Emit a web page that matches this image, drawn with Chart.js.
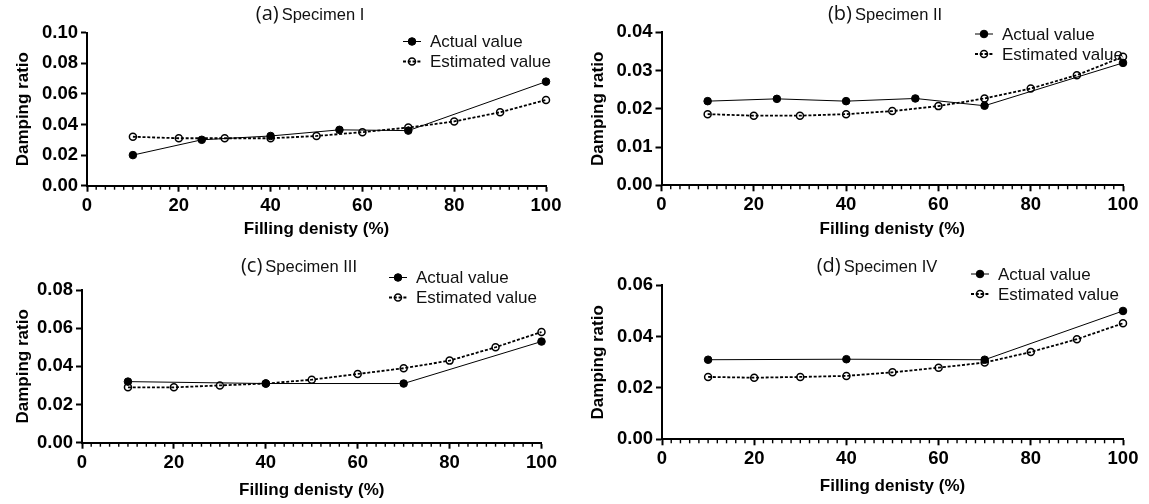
<!DOCTYPE html>
<html>
<head>
<meta charset="utf-8">
<script src="https://cdn.jsdelivr.net/npm/chart.js@4.4.1/dist/chart.umd.min.js"></script>
<style>
html,body{margin:0;padding:0;background:#fff;}
body{width:1149px;height:504px;position:relative;overflow:hidden;}
.panel{position:absolute;width:574px;height:252px;}
canvas{display:block;}
</style>
</head>
<body>
<div class="panel" style="left:0;top:0"><canvas id="cA" width="574" height="252"></canvas></div>
<div class="panel" style="left:575px;top:0"><canvas id="cB" width="574" height="252"></canvas></div>
<div class="panel" style="left:0;top:252px"><canvas id="cC" width="574" height="252"></canvas></div>
<div class="panel" style="left:575px;top:252px"><canvas id="cD" width="574" height="252"></canvas></div>
<script>
// ---------------- DATA ----------------
const seriesLabels = ['Actual value', 'Estimated value'];
const xAxisTitle = 'Filling denisty (%)';
const yAxisTitle = 'Damping ratio';
const panelTags = ['(a)', '(b)', '(c)', '(d)'];
const panelNames = ['Specimen I', 'Specimen II', 'Specimen III', 'Specimen IV'];

const densityEstimated = [10, 20, 30, 40, 50, 60, 70, 80, 90, 100];
const densityActualAB = [10, 25, 40, 55, 70, 100];
const densityActualCD = [10, 40, 70, 100];

const actualA = [0.020, 0.030, 0.0325, 0.0365, 0.036, 0.068];
const estimatedA = [0.032, 0.031, 0.031, 0.031, 0.0325, 0.035, 0.038, 0.042, 0.048, 0.056];

const actualB = [0.0220, 0.0226, 0.0220, 0.0227, 0.0208, 0.0320];
const estimatedB = [0.0186, 0.0182, 0.0182, 0.0186, 0.0194, 0.0207, 0.0227, 0.0253, 0.0288, 0.0336];

const actualC = [0.032, 0.031, 0.031, 0.053];
const estimatedC = [0.029, 0.029, 0.030, 0.031, 0.033, 0.036, 0.039, 0.043, 0.050, 0.058];

const actualD = [0.031, 0.0312, 0.031, 0.050];
const estimatedD = [0.0243, 0.0240, 0.0243, 0.0247, 0.0261, 0.0279, 0.0299, 0.034, 0.039, 0.0452];

const xMin = 0, xMax = 100, xStep = 20, xMinorStep = 2;
const yMaxes = [0.10, 0.04, 0.08, 0.06];
const ySteps = [0.02, 0.01, 0.02, 0.02];

// ---------------- STYLE / LAYOUT ----------------
const FONT = "'Liberation Sans', Arial, Helvetica, sans-serif";
const layouts = [
  { padL: 12.8, yW: 74.2, padR: 28, padT: 32.7, xH: 53.5, padB: 12.8, tcx: 310, tcy: 14, lx: 403, ly: 41.5 },
  { padL: 12.8, yW: 73.7, padR: 26, padT: 32.3, xH: 53.9, padB: 12.8, tcx: 310, tcy: 14, lx: 400, ly: 34 },
  { padL: 12.8, yW: 69.2, padR: 32.5, padT: 38, xH: 57.5, padB: 3.8, tcx: 299, tcy: 14, lx: 389, ly: 25.5 },
  { padL: 12.8, yW: 74.2, padR: 26, padT: 33.3, xH: 56.9, padB: 7.8, tcx: 302, tcy: 14, lx: 396, ly: 22 }
];

const minorTicks = {
  id: 'minorTicks',
  afterDraw(chart, args, opts) {
    const xs = chart.scales.x, ctx = chart.ctx, b = chart.chartArea.bottom;
    ctx.save();
    ctx.strokeStyle = '#000';
    ctx.lineWidth = 1.4;
    for (let v = xs.min; v <= xs.max; v += opts.step) {
      if (v % xStep === 0) continue;
      const px = xs.getPixelForValue(v);
      ctx.beginPath();
      ctx.moveTo(px, b);
      ctx.lineTo(px, b + 4);
      ctx.stroke();
    }
    ctx.restore();
  }
};

const panelTitle = {
  id: 'panelTitle',
  afterDraw(chart, args, opts) {
    const ctx = chart.ctx;
    ctx.save();
    ctx.fillStyle = '#111';
    ctx.textBaseline = 'middle';
    ctx.textAlign = 'left';
    const f1 = "20px 'Open Sans', sans-serif";
    const f2 = "16.5px " + FONT;
    ctx.font = f1; const w1 = ctx.measureText(opts.tag).width;
    ctx.font = f2; const w2 = ctx.measureText(opts.name).width;
    const gap = 3;
    const x = opts.cx - (w1 + gap + w2) / 2;
    ctx.font = f1; ctx.fillText(opts.tag, x, opts.cy);
    ctx.font = f2; ctx.fillText(opts.name, x + w1 + gap, opts.cy + 1);
    ctx.restore();
  }
};

const insideLegend = {
  id: 'insideLegend',
  afterDraw(chart, args, opts) {
    const ctx = chart.ctx;
    ctx.save();
    chart.data.datasets.forEach((ds, i) => {
      const y = opts.y + i * opts.dy;
      const x0 = opts.x, symW = 18;
      ctx.strokeStyle = ds.borderColor;
      ctx.lineWidth = ds.borderWidth;
      ctx.setLineDash(ds.borderDash || []);
      ctx.beginPath(); ctx.moveTo(x0, y); ctx.lineTo(x0 + symW, y); ctx.stroke();
      ctx.setLineDash([]);
      ctx.beginPath();
      ctx.arc(x0 + symW / 2, y, ds.pointRadius, 0, Math.PI * 2);
      ctx.fillStyle = ds.pointBackgroundColor;
      ctx.fill();
      ctx.lineWidth = ds.pointBorderWidth;
      ctx.strokeStyle = ds.pointBorderColor;
      ctx.stroke();
      ctx.fillStyle = '#111';
      ctx.font = '17px ' + FONT;
      ctx.textBaseline = 'middle';
      ctx.textAlign = 'left';
      ctx.fillText(ds.label, x0 + symW + 9, y + 1);
    });
    ctx.restore();
  }
};

function pairs(xs, ys) { return xs.map((x, i) => ({ x: x, y: ys[i] })); }

function makeChart(id, idx, xActual, actual, estimated) {
  const L = layouts[idx];
  return new Chart(document.getElementById(id), {
    type: 'line',
    data: {
      datasets: [
        {
          label: seriesLabels[0],
          data: pairs(xActual, actual),
          borderColor: '#000', borderWidth: 1,
          pointRadius: 3.8, pointBackgroundColor: '#000', pointBorderColor: '#000', pointBorderWidth: 1,
          tension: 0, clip: false
        },
        {
          label: seriesLabels[1],
          data: pairs(densityEstimated, estimated),
          borderColor: '#000', borderWidth: 1.8, borderDash: [3, 1.8],
          pointRadius: 3.5, pointBackgroundColor: 'rgba(0,0,0,0)', pointBorderColor: '#000', pointBorderWidth: 1.5,
          tension: 0, clip: false
        }
      ]
    },
    options: {
      responsive: false,
      animation: false,
      devicePixelRatio: 1,
      layout: { padding: { left: L.padL, right: L.padR, top: L.padT, bottom: L.padB } },
      plugins: {
        legend: { display: false },
        tooltip: { enabled: false },
        minorTicks: { step: xMinorStep },
        panelTitle: { tag: panelTags[idx], name: panelNames[idx], cx: L.tcx, cy: L.tcy },
        insideLegend: { x: L.lx, y: L.ly, dy: 20 }
      },
      scales: {
        x: {
          type: 'linear', min: xMin, max: xMax,
          ticks: { stepSize: xStep, padding: 3, color: '#000', font: { family: FONT, size: 18.5, weight: 'bold' }, maxRotation: 0,
                   callback: v => String(v) },
          grid: { drawOnChartArea: false, drawTicks: true, tickLength: 6, tickColor: '#000', tickWidth: 2 },
          border: { display: true, color: '#000', width: 2 },
          title: { display: true, text: xAxisTitle, color: '#000', padding: 0, font: { family: FONT, size: 17, weight: 'bold' } },
          afterFit(s) { s.height = L.xH; }
        },
        y: {
          type: 'linear', min: 0, max: yMaxes[idx],
          ticks: { stepSize: ySteps[idx], padding: 3, color: '#000', font: { family: FONT, size: 18.5, weight: 'bold' },
                   callback: v => v.toFixed(2) },
          grid: { drawOnChartArea: false, drawTicks: true, tickLength: 6, tickColor: '#000', tickWidth: 2 },
          border: { display: true, color: '#000', width: 2 },
          title: { display: true, text: yAxisTitle, color: '#000', padding: 0, font: { family: FONT, size: 17, weight: 'bold' } },
          afterFit(s) { s.width = L.yW; }
        }
      }
    },
    plugins: [minorTicks, panelTitle, insideLegend]
  });
}

makeChart('cA', 0, densityActualAB, actualA, estimatedA);
makeChart('cB', 1, densityActualAB, actualB, estimatedB);
makeChart('cC', 2, densityActualCD, actualC, estimatedC);
makeChart('cD', 3, densityActualCD, actualD, estimatedD);
</script>
</body>
</html>
